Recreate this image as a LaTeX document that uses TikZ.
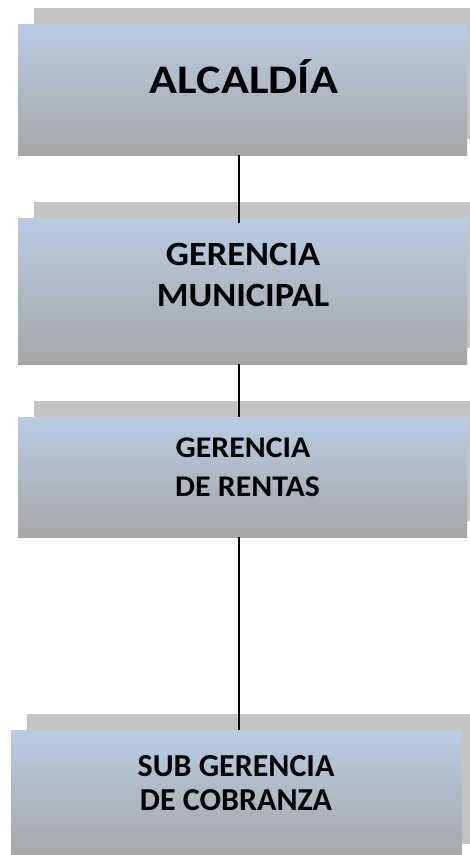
\documentclass[tikz,border=0pt]{standalone}
\usepackage{fontspec}
\setmainfont{Carlito}
\newfontfamily\stretchA[FakeStretch=1.14]{Carlito}
\newfontfamily\stretchB[FakeStretch=1.07]{Carlito}
\newfontfamily\stretchC[FakeStretch=1.06]{Carlito}
\usetikzlibrary{shadows}
\definecolor{boxtop}{RGB}{184,204,228}
\definecolor{boxbot}{RGB}{166,166,166}
\definecolor{shad}{RGB}{196,196,196}
\begin{document}
\begin{tikzpicture}[x=1pt,y=-1pt,
  orgbox/.style={rectangle, inner sep=0pt, draw=none, top color=boxtop, bottom color=boxbot,
    drop shadow={shadow xshift=16pt, shadow yshift=16pt, fill=shad, opacity=1}},
  lbl/.style={align=center, anchor=base, inner sep=0pt},
  link/.style={draw=black, line width=1.3pt}]
\useasboundingbox (0,0) rectangle (470,855);
\clip (0,0) rectangle (470,855);
\node[orgbox, minimum width=449pt, minimum height=131pt] (b1) at (242.5,89.5) {};
\node[orgbox, minimum width=449pt, minimum height=146pt] (b2) at (242.5,291) {};
\node[orgbox, minimum width=449pt, minimum height=120pt] (b3) at (242.5,477) {};
\node[orgbox, minimum width=451pt, minimum height=130pt] (b4) at (236.5,795) {};
\coordinate (lx) at (239,0);
\draw[link] (b1.south -| lx) -- ([yshift=-5pt]b2.north -| lx);
\draw[link] (b2.south -| lx) -- (b3.north -| lx);
\draw[link] (b3.south -| lx) -- (b4.north -| lx);
\node[lbl, font=\stretchA\fontsize{40.5}{48}\selectfont\bfseries] (t1) at (244,93.3) {ALCALDÍA};
\node[lbl, font=\stretchB\fontsize{34}{41.7}\selectfont\bfseries] (t2) at (243,306.7) {GERENCIA\\MUNICIPAL};
\node[lbl, font=\stretchC\fontsize{30}{39}\selectfont\bfseries] (t3) at (243,496) {GERENCIA\\\hspace*{0.3em}DE RENTAS};
\node[lbl, font=\fontsize{32}{34}\selectfont\bfseries] (t4) at (236,810) {SUB GERENCIA\\DE COBRANZA};
\end{tikzpicture}
\end{document}
